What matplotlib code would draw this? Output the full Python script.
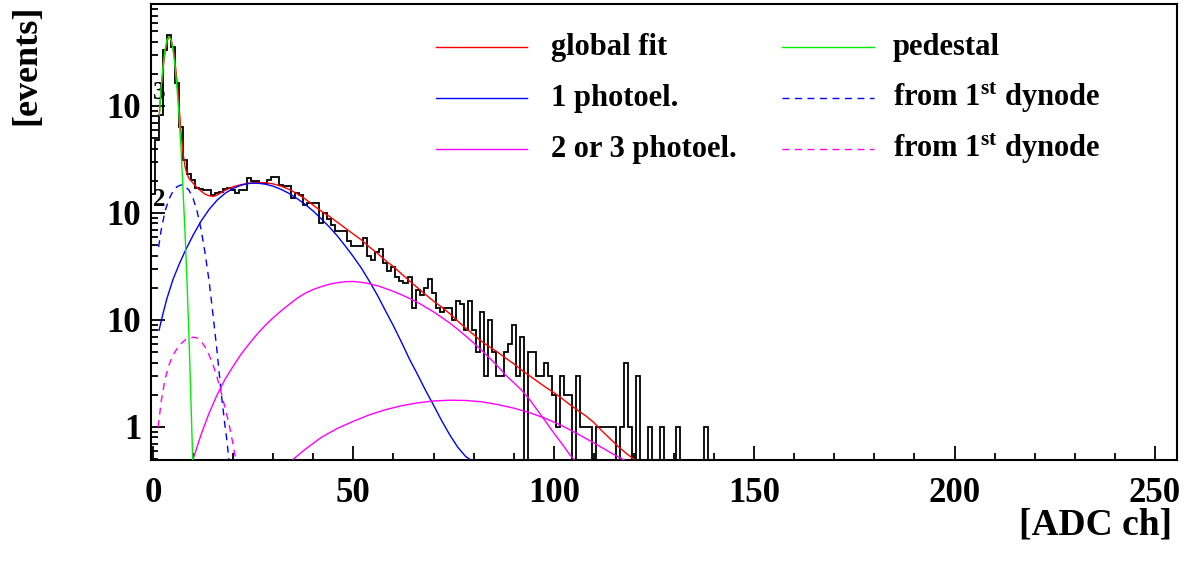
import matplotlib
matplotlib.use('Agg')
import matplotlib.pyplot as plt
import numpy as np
from matplotlib.lines import Line2D
from matplotlib.ticker import FixedLocator, FixedFormatter, LogLocator, NullFormatter, MultipleLocator

# ---------------- data ----------------
# histogram: bins centred on integer ADC channels 0..140
hist_counts = [150, 481, 824, 3340, 4580, 3580, 1640, 640, 311, 230,
               205, 172, 166, 164, 164, 147, 153, 158, 166, 172,
               164, 153, 164, 164, 211, 200, 200, 192, 192, 203,
               215, 215, 183, 178, 178, 137, 153, 147, 118, 124,
               124, 124, 80, 99, 87, 77, 68, 68, 68, 55,
               49, 49, 49, 59, 40, 36, 43, 46, 34, 29,
               31, 25, 23, 22, 25, 13, 19, 17, 20, 24,
               18, 13, 12, 13, 13, 10, 15, 14, 8, 15,
               8, 5, 12, 3, 10, 5, 3, 3, 5, 6,
               9, 3, 7, 0, 5, 5, 3, 3, 4, 3,
               2, 1, 3, 2, 2, 0, 3, 1, 1, 1,
               0, 1, 1, 1, 1, 1, 0, 1, 4, 1,
               0, 3, 0, 0, 1, 0, 0, 1, 0, 0,
               0, 1, 0, 0, 0, 0, 0, 0, 1, 0,
               0]

fit_x = [1.6, 2.0, 2.5, 3.0, 3.5, 4.0, 4.5, 5.0, 5.5, 6.0, 6.5, 7.0, 7.5, 8.0, 8.5,
         9.0, 10, 11, 12, 13, 14, 15, 16, 17, 18, 19, 20, 22, 24, 26, 28, 30, 32,
         34, 36, 38, 40, 42, 44, 46, 48, 50, 52, 54, 56, 58, 60, 62, 64, 66, 68,
         70, 72, 74, 76, 78, 80, 82, 84, 86, 88, 90, 92, 94, 96, 98, 100, 102,
         104, 106, 108, 110, 112, 114, 116, 118, 120]
fit_y = [870, 1400, 2200, 3200, 4050, 4480, 4250, 3500, 2550, 1700, 1000, 560, 360, 270, 230,
         210, 190, 172, 160, 150, 145, 143, 147, 155, 163, 170, 176, 184, 190, 193, 192, 187, 178,
         166, 151, 135, 118, 104, 93, 82, 72, 63.5, 56, 48, 42, 36, 31.5, 27, 23.2, 20, 17.3,
         15, 13.2, 11.5, 9.8, 8.4, 7.3, 6.3, 5.6, 5.0, 4.4, 3.9, 3.4, 3.0, 2.65, 2.35, 2.1, 1.85,
         1.62, 1.43, 1.27, 1.1, 0.92, 0.78, 0.66, 0.57, 0.5]

ped_x = [1.6, 2.0, 2.5, 3.0, 3.5, 4.0, 4.5, 5.0, 5.5, 6.0, 6.5, 7.0, 7.5, 8.0, 8.5, 9.0, 9.5, 9.9]
ped_y = [824, 1450, 2350, 3350, 4150, 4460, 4150, 3350, 2350, 1450, 800, 390, 160, 65, 22, 6.5, 1.6, 0.5]

pe1_x = [1.5, 2.5, 3.5, 5, 6.5, 8, 10, 12, 14, 16, 18, 20, 22, 24, 26, 28, 30, 32, 34,
         36, 38, 40, 42, 44, 46, 48, 50, 52, 54, 56, 58, 60, 62, 64, 66, 68, 70, 72,
         74, 76, 78, 79]
pe1_y = [8, 11.5, 16, 24, 33, 44, 62, 84, 108, 132, 153, 170, 182, 189, 190, 186, 178, 166, 152,
         136, 120, 104, 88, 74, 61, 49, 39, 30.5, 23, 17, 12.2, 8.8, 6.2, 4.3, 3.1, 2.2, 1.6, 1.15,
         0.85, 0.65, 0.53, 0.5]

dyn1_x = [1.4, 2, 3, 4, 5, 6, 7, 8, 9, 10, 11, 12, 13, 14, 15, 16, 17, 18, 18.5, 18.9]
dyn1_y = [48, 68, 104, 135, 160, 176, 183, 178, 163, 137, 104, 70, 42, 23, 11, 5.0, 2.1, 1.0, 0.72, 0.5]

pe2_x = [10, 12, 14, 16, 18, 20, 22, 24, 26, 28, 30, 32, 34, 36, 38, 40, 42, 44, 46, 48,
         50, 52, 54, 56, 58, 60, 62, 64, 66, 68, 70, 72, 74, 76, 78, 80, 82, 84, 86, 88,
         90, 92, 94, 96, 98, 100, 102, 104, 105]
pe2_y = [0.5, 0.85, 1.35, 2.0, 2.8, 3.7, 4.8, 6.0, 7.4, 8.9, 10.5, 12.2, 14.0, 16.0, 17.8, 19.3, 20.5, 21.6, 22.3, 22.8,
         22.9, 22.5, 21.8, 20.9, 19.7, 18.5, 17.2, 15.9, 14.6, 13.2, 11.9, 10.6, 9.4, 8.2, 7.1, 6.1, 5.2, 4.4, 3.7, 3.05,
         2.6, 2.2, 1.8, 1.42, 1.12, 0.88, 0.7, 0.55, 0.5]

pe3_x = [35, 38, 42, 46, 50, 54, 58, 62, 66, 70, 74, 78, 82, 86, 90, 94, 98, 102, 106, 110, 114, 118]
pe3_y = [0.5, 0.62, 0.8, 0.97, 1.13, 1.3, 1.45, 1.58, 1.68, 1.75, 1.78, 1.77, 1.72, 1.62, 1.5, 1.36,
         1.2, 1.03, 0.86, 0.71, 0.58, 0.48]

dyn2_x = [1.3, 2, 3, 4, 5, 6, 7, 8, 9, 10, 11, 12, 13, 14, 15, 16, 17, 18, 19, 20, 20.6]
dyn2_y = [1.0, 1.7, 2.8, 3.8, 4.7, 5.4, 6.0, 6.5, 6.8, 6.9, 6.8, 6.3, 5.6, 4.7, 3.8, 2.9, 2.1, 1.5,
          1.05, 0.68, 0.5]

legend_labels = ["global fit", "1 photoel.", "2 or 3 photoel.",
                 "pedestal", "from 1$^{\\rm st}$ dynode", "from 1$^{\\rm st}$ dynode"]
x_label = "[ADC ch]"
y_label = "[events]"
x_ticks = [0, 50, 100, 150, 200, 250]
y_ticks = [1, 10, 100, 1000]
y_ticklabels = ["1", "10", "10", "10"]
y_exponents = {100: "2", 1000: "3"}

# ---------------- style ----------------
plt.rcParams['font.family'] = ['Liberation Serif', 'DejaVu Serif']
plt.rcParams['font.weight'] = 'bold'
plt.rcParams['mathtext.fontset'] = 'custom'
plt.rcParams['mathtext.rm'] = 'Liberation Serif:bold'
plt.rcParams['mathtext.bf'] = 'Liberation Serif:bold'
plt.rcParams['mathtext.it'] = 'Liberation Serif:bold'

RED, BLUE, GREEN, MAG = '#ff0000', '#0000ff', '#00ee00', '#ff00ff'
DASH = (0, (5, 4))

W, H = 1196, 562
AX_L, AX_R, AX_T, AX_B = 151, 1177, 4, 460
fig = plt.figure(figsize=(W / 100, H / 100), dpi=100)
ax = fig.add_axes([AX_L / W, 1 - AX_B / H, (AX_R - AX_L) / W, (AX_B - AX_T) / H])

# histogram
counts = np.array(hist_counts, dtype=float)
edges = np.arange(len(counts) + 1) - 0.5
plot_counts = np.where(counts > 0, counts, 1e-3)
ax.stairs(plot_counts, edges, color='black', lw=1.3, baseline=None, zorder=2)

lw = 1.0
ax.plot(fit_x, fit_y, color=RED, lw=lw, zorder=3)
ax.plot(pe1_x, pe1_y, color=BLUE, lw=lw, zorder=3)
ax.plot(dyn1_x, dyn1_y, color=BLUE, lw=lw, ls=DASH, zorder=3)
ax.plot(pe2_x, pe2_y, color=MAG, lw=lw, zorder=3)
ax.plot(pe3_x, pe3_y, color=MAG, lw=lw, zorder=3)
ax.plot(dyn2_x, dyn2_y, color=MAG, lw=lw, ls=DASH, zorder=3)
ax.plot(ped_x, ped_y, color=GREEN, lw=lw, zorder=4)

ax.set_yscale('log')
ax.set_xlim(-0.5, 255.5)
ax.set_ylim(0.4914, 8980)

# ticks
ax.xaxis.set_major_locator(FixedLocator(x_ticks))
ax.xaxis.set_minor_locator(MultipleLocator(10))
ax.yaxis.set_major_locator(FixedLocator(y_ticks))
ax.yaxis.set_major_formatter(FixedFormatter(y_ticklabels))
ax.yaxis.set_minor_locator(LogLocator(base=10, subs=np.arange(2, 10)))
ax.yaxis.set_minor_formatter(NullFormatter())
ax.tick_params(which='both', direction='in', top=False, right=False, width=1.3)
ax.tick_params(which='major', length=10)
ax.tick_params(which='minor', length=5)
ax.tick_params(axis='x', which='major', labelsize=25, pad=12)
ax.tick_params(axis='y', which='major', labelsize=25, pad=7)
for s in ax.spines.values():
    s.set_linewidth(1.5)

for val, e in y_exponents.items():
    ax.annotate(e, xy=(0, val), xycoords=('axes fraction', 'data'),
                xytext=(2, 13), textcoords='offset pixels',
                ha='left', va='center', fontsize=18, fontweight='bold')

fig.text(1172 / W, 1 - 525 / H, x_label, ha='right', va='center', fontsize=27, fontweight='bold')
fig.text(27 / W, 1 - 5 / H, y_label, ha='center', va='top', rotation=90, fontsize=26, fontweight='bold')

# legend (two columns, rows aligned)
leg_styles = [(RED, '-'), (BLUE, '-'), (MAG, '-'), (GREEN, '-'), (BLUE, DASH), (MAG, DASH)]
row_y = [47, 98, 149]
col_line = [(436, 527), (782, 874)]
col_text = [551, 893]

def ax_x(px):
    return (px - AX_L) / (AX_R - AX_L)

def ax_y(py):
    return (AX_B - py) / (AX_B - AX_T)

for i, (lab, (c, ls)) in enumerate(zip(legend_labels, leg_styles)):
    col, row = divmod(i, 3)
    y = row_y[row]
    x0, x1 = col_line[col]
    ax.add_line(Line2D([ax_x(x0), ax_x(x1)], [ax_y(y), ax_y(y)], color=c, lw=lw, ls=ls,
                       transform=ax.transAxes, clip_on=False))
    ax.text(ax_x(col_text[col]), ax_y(y + 8), lab, transform=ax.transAxes,
            ha='left', va='baseline', fontsize=22, fontweight='bold')

fig.savefig('out.png', dpi=100)
